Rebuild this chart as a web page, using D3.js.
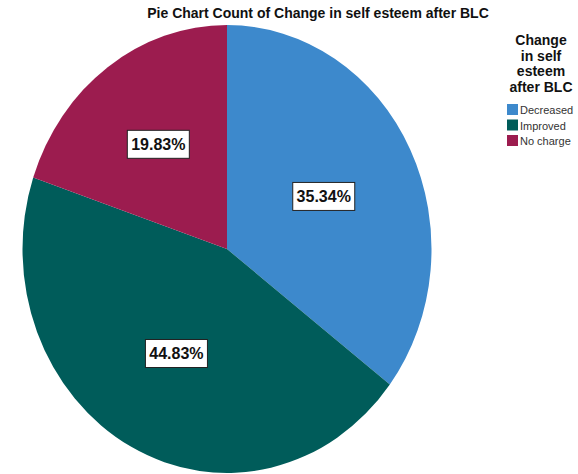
<!DOCTYPE html>
<html>
<head>
<meta charset="utf-8">
<script src="https://cdn.jsdelivr.net/npm/d3@7"></script>
<style>
body{margin:0;background:#fff;}
svg{display:block;font-family:"Liberation Sans",Arial,sans-serif;}
</style>
</head>
<body>
<div id="chart"></div>
<script>
var categories=["Decreased","Improved","No charge"];
var percents=[35.34,44.83,19.83];
var colors=["#3d89cc","#005c5a","#9c1c4f"];
var legendTitle=["Change","in self","esteem","after BLC"];
var chartTitle="Pie Chart Count of Change in self esteem after BLC";

var width=578,height=474;
var cx=227,cy=249,radius=204.5,yStretch=1.095,labelR=108;

var svg=d3.select("#chart").append("svg")
	.attr("width",width)
	.attr("height",height);

var data=categories.map(function(c,i){return {name:c,value:percents[i],color:colors[i]};});

var pie=d3.pie().sort(null).value(function(d){return d.value;});
var arc=d3.arc().innerRadius(0).outerRadius(radius);
var labelArc=d3.arc().innerRadius(labelR).outerRadius(labelR);

var arcs=pie(data);

var pieG=svg.append("g")
	.attr("transform","translate("+cx+","+cy+") scale(1,"+yStretch+")");

pieG.selectAll("path")
	.data(arcs)
	.enter()
	.append("path")
	.attr("d",arc)
	.style("fill",function(d){return d.data.color;});

// percentage labels in white boxes
var labelG=svg.append("g").attr("transform","translate("+cx+","+cy+")");
var lab=labelG.selectAll("g")
	.data(arcs)
	.enter()
	.append("g")
	.attr("transform",function(d){
		var c=labelArc.centroid(d);
		var extra=(d.data.name=="No charge")?1.09:1;
		return "translate("+(c[0]*extra)+","+(c[1]*yStretch*extra)+")";
	});

lab.append("rect")
	.attr("x",-31).attr("y",-14)
	.attr("width",62).attr("height",28)
	.style("fill","#fff")
	.style("stroke","#222")
	.style("stroke-width","1px");

lab.append("text")
	.attr("text-anchor","middle")
	.attr("dy","0.36em")
	.style("font-size","16px")
	.style("font-weight","bold")
	.style("fill","#111")
	.text(function(d){return d.data.value.toFixed(2)+"%";});

// title
svg.append("text")
	.attr("x",318)
	.attr("y",18)
	.attr("text-anchor","middle")
	.style("font-size","14px")
	.style("font-weight","bold")
	.style("fill","#111")
	.text(chartTitle);

// legend
var legend=svg.append("g");
legend.selectAll("text.lt")
	.data(legendTitle)
	.enter()
	.append("text")
	.attr("class","lt")
	.attr("x",541)
	.attr("y",function(d,i){return 45+i*15.5;})
	.attr("text-anchor","middle")
	.style("font-size","14px")
	.style("font-weight","bold")
	.style("fill","#111")
	.text(function(d){return d;});

var item=legend.selectAll("g.item")
	.data(data)
	.enter()
	.append("g")
	.attr("class","item")
	.attr("transform",function(d,i){return "translate(507,"+(104+i*15.5)+")";});

item.append("rect")
	.attr("width",11).attr("height",11)
	.style("fill",function(d){return d.color;});

item.append("text")
	.attr("x",13)
	.attr("y",10)
	.style("font-size","11px")
	.style("fill","#333")
	.text(function(d){return d.name;});
</script>
</body>
</html>
